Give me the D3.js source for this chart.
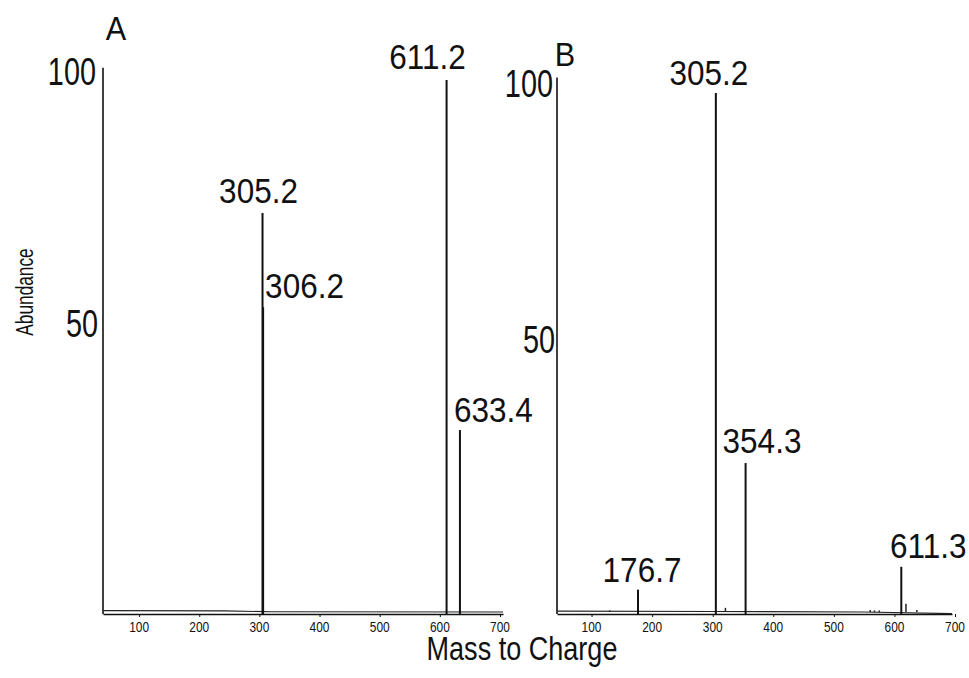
<!DOCTYPE html>
<html>
<head>
<meta charset="utf-8">
<script src="https://cdn.jsdelivr.net/npm/d3@7"></script>
<style>
  html, body { margin: 0; padding: 0; background: #fff; }
  svg text { font-family: "Liberation Sans", Arial, sans-serif; fill: #111; }
</style>
</head>
<body>
<svg id="chart" width="969" height="678"></svg>
<script>
// Panel A peaks (m/z, % abundance)
const mzA = [305.2, 306.2, 611.2, 633.4];
const abA = [75, 57.3, 100, 34.2];
const labelsA = ["305.2", "306.2", "611.2", "633.4"];
// baseline trace A
const traceMzA = [40, 240, 320, 705];
const traceAbA = [0.25, 0.2, 0.05, 0.0];

// Panel B peaks
const mzB = [176.7, 305.2, 354.3, 611.3];
const abB = [4.3, 100, 28.7, 8.7];
const labelsB = ["176.7", "305.2", "354.3", "611.3"];
// small unlabelled peaks B
const minorMzB = [130, 321, 560, 567, 575, 619, 637];
const minorAbB = [0.3, 0.8, 0.4, 0.3, 0.3, 1.6, 0.4];
const traceMzB = [43, 300, 550, 695];
const traceAbB = [0.15, 0.1, 0.0, -0.3];

const xTicks = [100, 200, 300, 400, 500, 600, 700];
const yTicks = [100, 50];

const svg = d3.select("#chart");

function txt(g, x, y, s, size, sx, anchor) {
    return g.append("text")
        .attr("transform", `translate(${x},${y}) scale(${sx},1)`)
        .attr("text-anchor", anchor)
        .attr("font-size", size)
        .text(s);
}

function panel(opt) {
    const g = svg.append("g");
    const x = d3.scaleLinear().domain(opt.xDomain).range(opt.xRange);
    const y = d3.scaleLinear().domain([0, 100]).range(opt.yRange);
    const y0 = y(0);

    // x axis line + ticks
    const axis = d3.axisBottom(x).tickValues(xTicks).tickSize(3).tickSizeOuter(0).tickFormat("");
    g.append("g")
        .attr("transform", `translate(0,${y0 + 2})`)
        .call(axis)
        .call(a => a.select(".domain").attr("stroke", "#111").attr("stroke-width", 1.6))
        .call(a => a.selectAll(".tick line").attr("stroke", "#111"));

    xTicks.forEach(t => txt(g, x(t), y0 + 20, t, 14, 0.85, "middle"));

    // y axis line
    g.append("line")
        .attr("x1", opt.xRange[0]).attr("x2", opt.xRange[0])
        .attr("y1", y(opt.yTop)).attr("y2", y0 + 2)
        .attr("stroke", "#111").attr("stroke-width", 1.6);

    yTicks.forEach((t, i) => txt(g, opt.xRange[0] + opt.yLab[i][0], y(t) + opt.yLab[i][1], t, 39, 0.74, "end"));

    // baseline trace
    g.append("path")
        .datum(d3.zip(opt.traceMz, opt.traceAb))
        .attr("d", d3.line().x(d => x(d[0])).y(d => y(d[1])))
        .attr("fill", "none").attr("stroke", "#222").attr("stroke-width", 1.2);

    // minor peaks
    g.selectAll(".minor")
        .data(d3.zip(opt.minorMz, opt.minorAb))
        .join("line")
        .attr("x1", d => x(d[0])).attr("x2", d => x(d[0]))
        .attr("y1", y0).attr("y2", d => y(d[1]))
        .attr("stroke", "#222").attr("stroke-width", 1.5);

    // peaks
    g.selectAll(".peak")
        .data(d3.zip(opt.mz, opt.ab))
        .join("line")
        .attr("x1", d => x(d[0])).attr("x2", d => x(d[0]))
        .attr("y1", y0 + 2).attr("y2", d => y(d[1]))
        .attr("stroke", "#111").attr("stroke-width", 2);

    opt.labels.forEach((s, i) => {
        const p = opt.place[i];
        txt(g, x(opt.mz[i]) + p[0], y(opt.ab[i]) + p[1], s, 35, 0.9, p[2]);
    });

    txt(g, opt.letter[0], opt.letter[1], opt.letter[2], opt.letter[3], 0.9, "middle");
}

panel({
    xDomain: [40, 705], xRange: [103, 503], yRange: [612, 80], yTop: 102.3,
    mz: mzA, ab: abA, labels: labelsA,
    place: [[-4, -10, "middle"], [2, -9, "start"], [-19, -11, "middle"], [-6, -8, "start"]],
    minorMz: [], minorAb: [],
    traceMz: traceMzA, traceAb: traceAbA,
    yLab: [[-7, 5], [-5, -9]],
    letter: [116, 40, "A", 34]
});

panel({
    xDomain: [43, 695], xRange: [557, 952], yRange: [612, 93], yTop: 103,
    mz: mzB, ab: abB, labels: labelsB,
    place: [[4, -8, "middle"], [-7, -8, "middle"], [-23, -10, "start"], [27, -9, "middle"]],
    minorMz: minorMzB, minorAb: minorAbB,
    traceMz: traceMzB, traceAb: traceAbB,
    yLab: [[-4, 4], [-2, 0]],
    letter: [565, 66, "B", 34]
});

// axis titles
txt(svg, 522, 660, "Mass to Charge", 33, 0.82, "middle");
svg.append("text")
    .attr("transform", "translate(33,292) rotate(-90) scale(0.72,1)")
    .attr("text-anchor", "middle")
    .attr("font-size", 24)
    .text("Abundance");
</script>
</body>
</html>
